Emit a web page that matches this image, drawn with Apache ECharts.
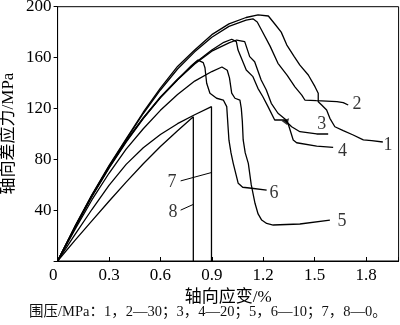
<!DOCTYPE html>
<html><head><meta charset="utf-8">
<script src="https://cdn.jsdelivr.net/npm/echarts@6/dist/echarts.min.js"></script>
<style>html,body{margin:0;padding:0;background:#fff}#c{width:400px;height:325px}</style>
</head><body><div id="c"></div>
<script>
// axis ticks
const xTicks = [0, 0.3, 0.6, 0.9, 1.2, 1.5, 1.8];
const yTicks = [40, 80, 120, 160, 200];

// curves: [axial strain %, deviatoric stress MPa]
const curve1 = [[0,0],[0.1,27],[0.2,52],[0.3,75],[0.4,96],[0.5,117],[0.6,136],[0.7,153],[0.8,166],[0.9,178],[1.0,186.5],[1.1,191.5],[1.17,193.5],[1.23,192.7],[1.27,186],[1.305,180],[1.337,170],[1.38,161],[1.414,154],[1.463,146.3],[1.502,137.1],[1.521,131.9],[1.521,125.3],[1.541,122.7],[1.57,118.7],[1.589,112.2],[1.618,105.6],[1.667,102.5],[1.725,99.1],[1.784,95.2],[1.833,94.6],[1.898,93.6]];
const curve2 = [[0,0],[0.1,26.5],[0.2,51.5],[0.3,74.5],[0.4,95.5],[0.5,116],[0.6,134.5],[0.7,151],[0.8,164.5],[0.9,176],[1.0,184.5],[1.1,189.5],[1.14,190.5],[1.165,188],[1.19,181.7],[1.24,169],[1.286,155.5],[1.34,146],[1.385,137],[1.425,130.5],[1.443,126.6],[1.51,126.1],[1.63,125.3],[1.667,124.5],[1.696,122.7]];
const curve3 = [[0,0],[0.1,26],[0.2,51],[0.3,73.5],[0.4,94],[0.5,112.5],[0.6,129],[0.7,143],[0.8,155.5],[0.9,166],[0.97,172],[1.016,174.4],[1.043,172.5],[1.053,165.9],[1.101,150.2],[1.14,145],[1.169,135.8],[1.198,129.2],[1.228,121.4],[1.267,110.9],[1.325,110.9],[1.366,105.6],[1.414,101.7],[1.512,99.9],[1.579,99.9]];
const curve4 = [[0,0],[0.1,26],[0.2,50.5],[0.3,73],[0.4,93.5],[0.5,112],[0.6,128.5],[0.7,142.5],[0.8,155],[0.9,165],[1.0,171.5],[1.045,173.8],[1.092,172.5],[1.121,160.7],[1.15,156.7],[1.188,142.4],[1.218,134.5],[1.247,124],[1.286,116.2],[1.334,110.9],[1.344,108.5],[1.375,95.2],[1.395,93],[1.512,90.4],[1.608,89.4]];
const curve5 = [[0,0],[0.1,24.5],[0.2,48],[0.3,69],[0.4,88],[0.5,104],[0.6,118.5],[0.7,131],[0.8,141.5],[0.9,149],[0.959,152.6],[0.99,150],[1.003,144],[1.016,132],[1.035,128],[1.064,126.6],[1.072,120],[1.078,110],[1.083,95.2],[1.095,85],[1.113,76.8],[1.13,60],[1.152,45.4],[1.17,37],[1.191,32.2],[1.22,29.5],[1.258,28.3],[1.414,29.1],[1.589,32.2]];
const curve6 = [[0,0],[0.1,26.5],[0.2,51.5],[0.3,74],[0.4,94.5],[0.5,112.5],[0.6,128.5],[0.7,142.5],[0.78,153.5],[0.819,158],[0.85,156],[0.86,152],[0.87,139.8],[0.889,131.9],[0.928,128],[0.967,126.6],[0.987,121.4],[0.996,103],[1.0,95],[1.012,85],[1.025,76.8],[1.054,61.1],[1.08,58],[1.132,57.2],[1.22,55.8]];
const curve7 = [[0,0],[0.1,20.5],[0.2,40.5],[0.3,59.5],[0.4,76],[0.5,89],[0.6,99.5],[0.7,108],[0.8,115],[0.898,121.4],[0.898,0]];
const curve8 = [[0,0],[0.1,16],[0.2,31.5],[0.3,47],[0.4,62],[0.5,76.5],[0.6,90],[0.7,102.5],[0.792,113.5],[0.792,0]];
const curves = [curve1, curve2, curve3, curve4, curve5, curve6, curve7, curve8];

// curve number labels and leader lines
const labelTexts = ['1','2','3','4','5','6','7','8'];
const labelPos = [[1.928,91.2],[1.747,123],[1.542,107.5],[1.663,86],[1.66,31.5],[1.263,53.5],[0.668,62],[0.674,38.5]];
const leader7 = [[0.718,63],[0.896,69.5]];
const leader8 = [[0.718,40],[0.792,44.5]];
const blobPoint = [[1.335,109]];

const axisFont = 'Liberation Serif, Times New Roman, serif';
const cjkFont = 'Liberation Serif, Noto Sans CJK SC, serif';

const series = curves.map(c => ({
  type: 'line', data: c, showSymbol: false, smooth: false,
  lineStyle: {color: '#000', width: 1.3}, silent: true
}));
series.push({type:'line', data: leader7, showSymbol:false, lineStyle:{color:'#000', width:1}});
series.push({type:'line', data: leader8, showSymbol:false, lineStyle:{color:'#000', width:1}});
series.push({type:'scatter', data: blobPoint, symbol:'triangle', symbolSize:[8,6], symbolRotate:200, itemStyle:{color:'#000'}});
series.push({
  type:'scatter', symbolSize: 1, itemStyle:{color:'rgba(0,0,0,0)'},
  data: labelPos.map((p,i) => ({value:p, name: labelTexts[i]})),
  label:{show:true, position:'inside', formatter: p => p.name, color:'#000', fontFamily: axisFont, fontSize: 18}
});

const chart = echarts.init(document.getElementById('c'), null, {renderer:'canvas'});
chart.setOption({
  animation: false,
  backgroundColor: '#fff',
  grid: {left: 57.6, top: 6.7, width: 341, height: 254.3, show: true, borderColor: '#000', borderWidth: 1,
         containLabel: false, outerBoundsMode: 'none'},
  xAxis: {
    type: 'value', min: 0, max: 1.99, interval: 0.3,
    name: '轴向应变/%', nameLocation: 'middle', nameGap: 24,
    nameTextStyle: {fontFamily: cjkFont, fontSize: 17, color: '#000'},
    axisLine: {lineStyle: {color: '#000', width: 1}},
    axisTick: {inside: true, length: 4, lineStyle: {color: '#000'}},
    splitLine: {show: false},
    axisLabel: {
      margin: 6, color: '#000', fontFamily: axisFont, fontSize: 17,
      formatter: v => {
        const t = xTicks.find(k => Math.abs(k - v) < 1e-6);
        if (t === undefined) return '';
        return t === 0 ? '0\u2002' : t.toFixed(1);
      }
    }
  },
  yAxis: {
    type: 'value', min: 0, max: 200, interval: 40,
    axisLine: {show: true, lineStyle: {color: '#000', width: 1}},
    axisTick: {show: true, inside: false, length: 4, lineStyle: {color: '#000'}},
    splitLine: {show: false},
    axisLabel: {
      margin: 6, color: '#000', fontFamily: axisFont, fontSize: 17,
      formatter: v => yTicks.includes(v) ? String(v) : ''
    }
  },
  graphic: [{
    type: 'text', x: 9, y: 133.5, rotation: Math.PI / 2,
    style: {text: '轴向差应力/MPa', font: '17px ' + cjkFont, fill: '#000', align: 'center', verticalAlign: 'middle'}
  }, {
    type: 'text', left: 29, top: 305,
    style: {text: '围压/MPa：1，2—30；3，4—20；5，6—10；7，8—0。', font: '14.5px ' + cjkFont, fill: '#111'}
  }],
  series: series
});
</script></body></html>
